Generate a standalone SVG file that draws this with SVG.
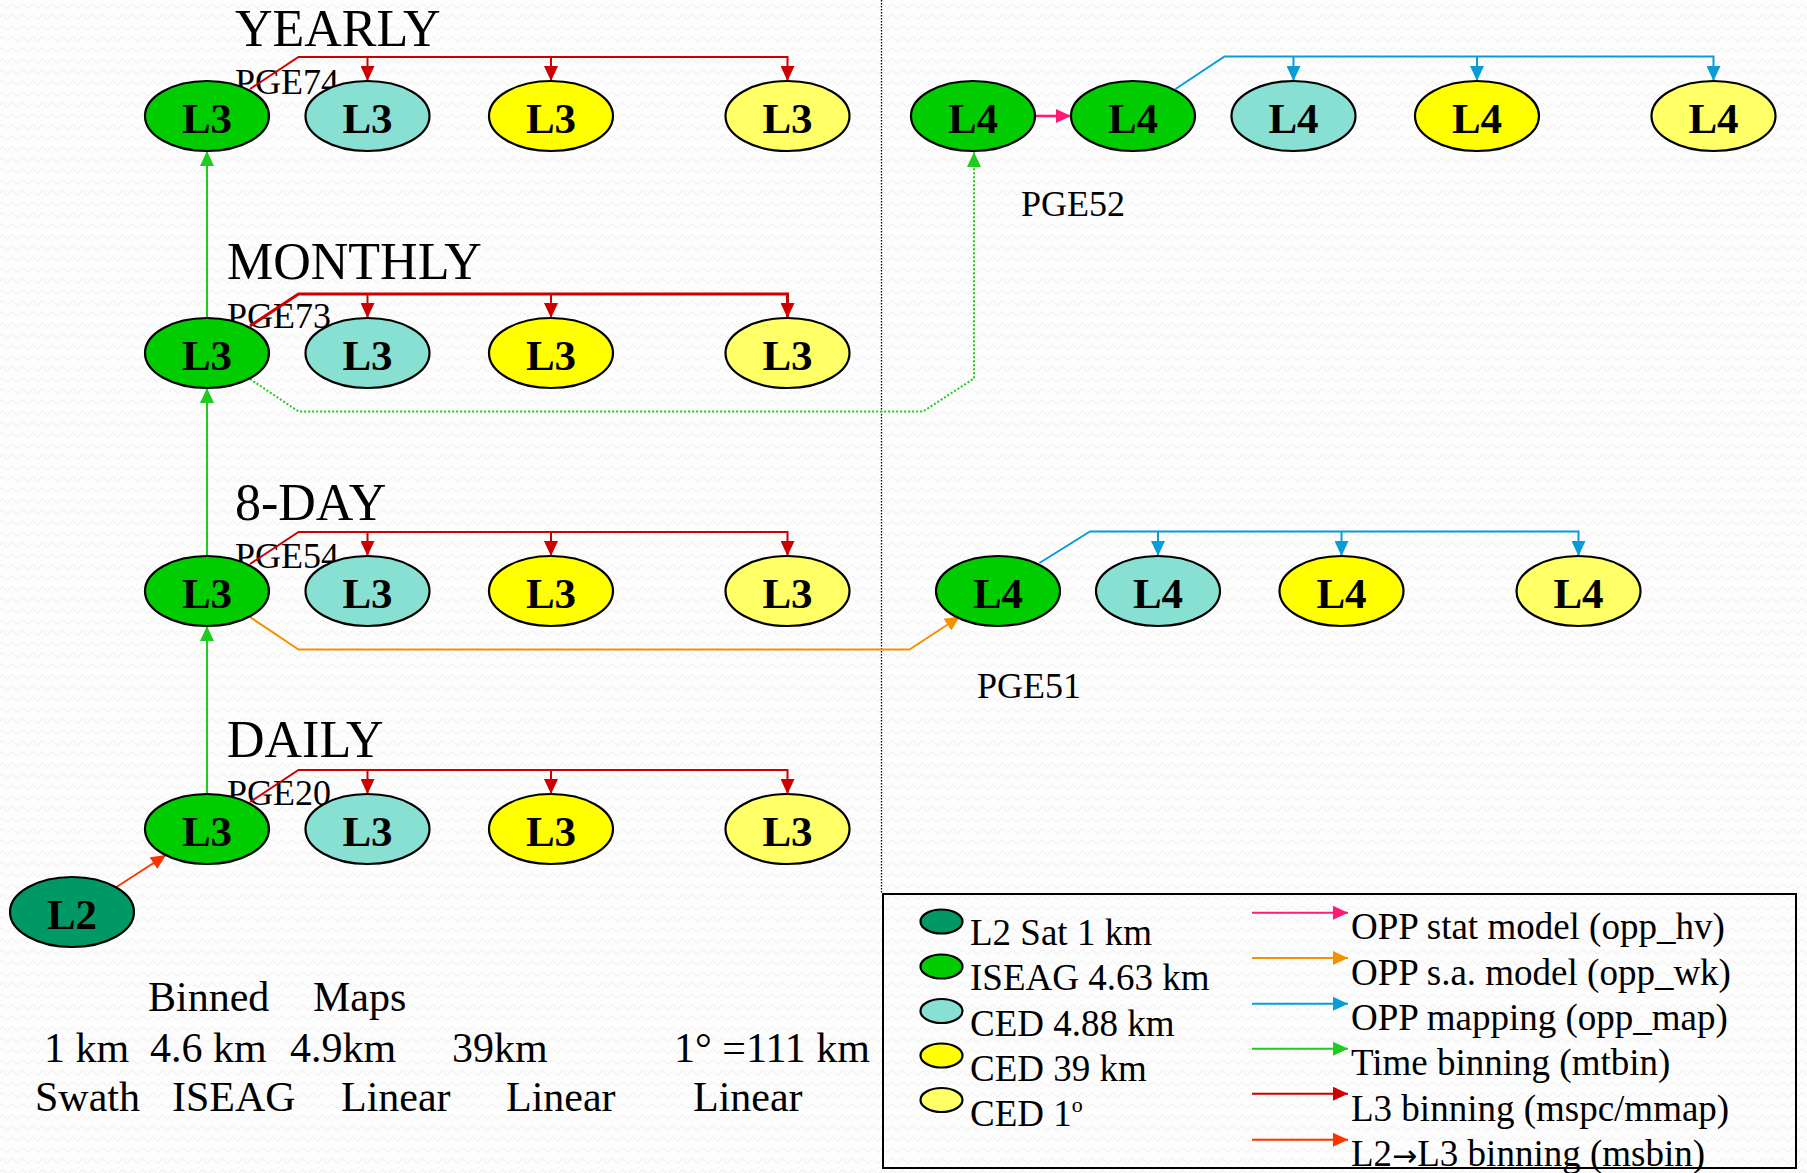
<svg xmlns="http://www.w3.org/2000/svg" width="1807" height="1173" viewBox="0 0 1807 1173">
  <defs>
    <style>
      text { font-family: "Liberation Serif", "Times New Roman", serif; fill: #000; }
      .title { font-size: 52px; }
      .pge { font-size: 36px; }
      .lab { font-size: 43px; font-weight: bold; text-anchor: middle; }
      .foot { font-size: 42px; }
      .leg { font-size: 37px; }
      .node { stroke: #000; stroke-width: 2.2; }
      .iseag { fill: #00CC00; }
      .ced488 { fill: #88E0D2; }
      .ced39 { fill: #FFFF00; }
      .ced1 { fill: #FFFF66; }
      .l2 { fill: #009966; }
      .c { fill: none; stroke-width: 2; }
      .red { stroke: #CC0000; }
      .grn { stroke: #1ECC1E; }
      .blu { stroke: #0A9CD6; }
      .org { stroke: #F39200; }
      .pnk { stroke: #FF1A75; }
      .rorg { stroke: #FF3300; }
    </style>
    <pattern id="zig" width="10" height="11" patternUnits="userSpaceOnUse">
      <path d="M0,6 Q2.5,2 5,6 T10,6" fill="none" stroke="#ececec" stroke-width="1"/>
    </pattern>
    <marker id="aRed" viewBox="0 0 15 14" refX="15" refY="7" markerWidth="15" markerHeight="14" markerUnits="userSpaceOnUse" orient="auto"><path d="M0,0 L15,7 L0,14 z" fill="#CC0000"/></marker>
    <marker id="aGrn" viewBox="0 0 15 14" refX="15" refY="7" markerWidth="15" markerHeight="14" markerUnits="userSpaceOnUse" orient="auto"><path d="M0,0 L15,7 L0,14 z" fill="#1ECC1E"/></marker>
    <marker id="aBlu" viewBox="0 0 15 14" refX="15" refY="7" markerWidth="15" markerHeight="14" markerUnits="userSpaceOnUse" orient="auto"><path d="M0,0 L15,7 L0,14 z" fill="#0A9CD6"/></marker>
    <marker id="aOrg" viewBox="0 0 15 14" refX="15" refY="7" markerWidth="15" markerHeight="14" markerUnits="userSpaceOnUse" orient="auto"><path d="M0,0 L15,7 L0,14 z" fill="#F39200"/></marker>
    <marker id="aPnk" viewBox="0 0 15 14" refX="15" refY="7" markerWidth="15" markerHeight="14" markerUnits="userSpaceOnUse" orient="auto"><path d="M0,0 L15,7 L0,14 z" fill="#FF1A75"/></marker>
    <marker id="aRorg" viewBox="0 0 15 14" refX="15" refY="7" markerWidth="15" markerHeight="14" markerUnits="userSpaceOnUse" orient="auto"><path d="M0,0 L15,7 L0,14 z" fill="#FF3300"/></marker>
  </defs>

  <!-- textured paper background -->
  <rect width="1807" height="1173" fill="#fdfdfd"/>
  <rect width="1807" height="1173" fill="url(#zig)"/>

  <!-- divider between L3 and L4 halves -->
  <path d="M881.5,0 V894" fill="none" stroke="#000" stroke-width="1.3" stroke-dasharray="1.5 1.5"/>

  <!-- time-step titles and PGE labels -->
  <g id="titles">
    <text class="title" x="235" y="46">YEARLY</text>
    <text class="title" x="227" y="279">MONTHLY</text>
    <text class="title" x="235" y="520">8-DAY</text>
    <text class="title" x="227" y="757">DAILY</text>
    <text class="pge" x="235" y="94">PGE74</text>
    <text class="pge" x="227" y="328">PGE73</text>
    <text class="pge" x="235" y="568">PGE54</text>
    <text class="pge" x="227" y="805">PGE20</text>
    <text class="pge" x="1021" y="216">PGE52</text>
    <text class="pge" x="977" y="698">PGE51</text>
  </g>

  <g id="connectors">
    <!-- L3 binning, per time step -->
    <path class="c red" d="M250,89 L298.5,57 H787.5 V81" marker-end="url(#aRed)"/>
    <path class="c red" d="M367.5,57 V81" marker-end="url(#aRed)"/>
    <path class="c red" d="M551,57 V81" marker-end="url(#aRed)"/>
    <path class="c red" style="stroke-width:3" d="M250,326 L298.5,294 H787.5 V318" marker-end="url(#aRed)"/>
    <path class="c red" d="M367.5,294 V318" marker-end="url(#aRed)"/>
    <path class="c red" d="M551,294 V318" marker-end="url(#aRed)"/>
    <path class="c red" d="M250,564 L298.5,532 H787.5 V556" marker-end="url(#aRed)"/>
    <path class="c red" d="M367.5,532 V556" marker-end="url(#aRed)"/>
    <path class="c red" d="M551,532 V556" marker-end="url(#aRed)"/>
    <path class="c red" d="M250,802 L298.5,770 H787.5 V794" marker-end="url(#aRed)"/>
    <path class="c red" d="M367.5,770 V794" marker-end="url(#aRed)"/>
    <path class="c red" d="M551,770 V794" marker-end="url(#aRed)"/>
    <!-- time binning -->
    <path class="c grn" d="M207,318 V151" marker-end="url(#aGrn)"/>
    <path class="c grn" d="M207,556 V388" marker-end="url(#aGrn)"/>
    <path class="c grn" d="M207,794 V626" marker-end="url(#aGrn)"/>
    <path class="c grn" d="M250,379 L298.5,411.5 H923 L974,378.5 V152" stroke-dasharray="2 2" marker-end="url(#aGrn)"/>
    <!-- L2 to L3 binning -->
    <path class="c rorg" d="M116.5,887 L166,855" marker-end="url(#aRorg)"/>
    <!-- OPP s.a. model -->
    <path class="c org" d="M250,617 L298.5,649.5 H909.5 L960,616.5" marker-end="url(#aOrg)"/>
    <!-- OPP stat model -->
    <path class="c pnk" style="stroke-width:2.5" d="M1035,116 H1071" marker-end="url(#aPnk)"/>
    <!-- OPP mapping -->
    <path class="c blu" d="M1175.5,89 L1224.5,56.5 H1713.5 V81" marker-end="url(#aBlu)"/>
    <path class="c blu" d="M1293.5,56.5 V81" marker-end="url(#aBlu)"/>
    <path class="c blu" d="M1477,56.5 V81" marker-end="url(#aBlu)"/>
    <path class="c blu" d="M1039.5,563 L1090,531.5 H1578.5 V556" marker-end="url(#aBlu)"/>
    <path class="c blu" d="M1158,531.5 V556" marker-end="url(#aBlu)"/>
    <path class="c blu" d="M1341.5,531.5 V556" marker-end="url(#aBlu)"/>
  </g>

  <!-- yearly L3 -->
  <g id="y-l3-iseag"><ellipse class="node iseag" cx="207" cy="116" rx="62" ry="35"/><text class="lab" x="207" y="132.5">L3</text></g>
  <g id="y-l3-ced488"><ellipse class="node ced488" cx="367.5" cy="116" rx="62" ry="35"/><text class="lab" x="367.5" y="132.5">L3</text></g>
  <g id="y-l3-ced39"><ellipse class="node ced39" cx="551" cy="116" rx="62" ry="35"/><text class="lab" x="551" y="132.5">L3</text></g>
  <g id="y-l3-ced1"><ellipse class="node ced1" cx="787.5" cy="116" rx="62" ry="35"/><text class="lab" x="787.5" y="132.5">L3</text></g>
  <!-- monthly L3 -->
  <g id="m-l3-iseag"><ellipse class="node iseag" cx="207" cy="353" rx="62" ry="35"/><text class="lab" x="207" y="369.5">L3</text></g>
  <g id="m-l3-ced488"><ellipse class="node ced488" cx="367.5" cy="353" rx="62" ry="35"/><text class="lab" x="367.5" y="369.5">L3</text></g>
  <g id="m-l3-ced39"><ellipse class="node ced39" cx="551" cy="353" rx="62" ry="35"/><text class="lab" x="551" y="369.5">L3</text></g>
  <g id="m-l3-ced1"><ellipse class="node ced1" cx="787.5" cy="353" rx="62" ry="35"/><text class="lab" x="787.5" y="369.5">L3</text></g>
  <!-- 8-day L3 -->
  <g id="d8-l3-iseag"><ellipse class="node iseag" cx="207" cy="591" rx="62" ry="35"/><text class="lab" x="207" y="607.5">L3</text></g>
  <g id="d8-l3-ced488"><ellipse class="node ced488" cx="367.5" cy="591" rx="62" ry="35"/><text class="lab" x="367.5" y="607.5">L3</text></g>
  <g id="d8-l3-ced39"><ellipse class="node ced39" cx="551" cy="591" rx="62" ry="35"/><text class="lab" x="551" y="607.5">L3</text></g>
  <g id="d8-l3-ced1"><ellipse class="node ced1" cx="787.5" cy="591" rx="62" ry="35"/><text class="lab" x="787.5" y="607.5">L3</text></g>
  <!-- daily L3 -->
  <g id="d1-l3-iseag"><ellipse class="node iseag" cx="207" cy="829" rx="62" ry="35"/><text class="lab" x="207" y="845.5">L3</text></g>
  <g id="d1-l3-ced488"><ellipse class="node ced488" cx="367.5" cy="829" rx="62" ry="35"/><text class="lab" x="367.5" y="845.5">L3</text></g>
  <g id="d1-l3-ced39"><ellipse class="node ced39" cx="551" cy="829" rx="62" ry="35"/><text class="lab" x="551" y="845.5">L3</text></g>
  <g id="d1-l3-ced1"><ellipse class="node ced1" cx="787.5" cy="829" rx="62" ry="35"/><text class="lab" x="787.5" y="845.5">L3</text></g>
  <!-- L2 swath -->
  <g id="l2-swath"><ellipse class="node l2" cx="72" cy="912" rx="62" ry="35"/><text class="lab" x="72" y="928.5">L2</text></g>
  <!-- L4 (PGE52) -->
  <g id="pge52-l4-in"><ellipse class="node iseag" cx="973" cy="116" rx="62" ry="35"/><text class="lab" x="973" y="132.5">L4</text></g>
  <g id="pge52-l4-iseag"><ellipse class="node iseag" cx="1133" cy="116" rx="62" ry="35"/><text class="lab" x="1133" y="132.5">L4</text></g>
  <g id="pge52-l4-ced488"><ellipse class="node ced488" cx="1293.5" cy="116" rx="62" ry="35"/><text class="lab" x="1293.5" y="132.5">L4</text></g>
  <g id="pge52-l4-ced39"><ellipse class="node ced39" cx="1477" cy="116" rx="62" ry="35"/><text class="lab" x="1477" y="132.5">L4</text></g>
  <g id="pge52-l4-ced1"><ellipse class="node ced1" cx="1713.5" cy="116" rx="62" ry="35"/><text class="lab" x="1713.5" y="132.5">L4</text></g>
  <!-- L4 (PGE51) -->
  <g id="pge51-l4-iseag"><ellipse class="node iseag" cx="998" cy="591" rx="62" ry="35"/><text class="lab" x="998" y="607.5">L4</text></g>
  <g id="pge51-l4-ced488"><ellipse class="node ced488" cx="1158" cy="591" rx="62" ry="35"/><text class="lab" x="1158" y="607.5">L4</text></g>
  <g id="pge51-l4-ced39"><ellipse class="node ced39" cx="1341.5" cy="591" rx="62" ry="35"/><text class="lab" x="1341.5" y="607.5">L4</text></g>
  <g id="pge51-l4-ced1"><ellipse class="node ced1" cx="1578.5" cy="591" rx="62" ry="35"/><text class="lab" x="1578.5" y="607.5">L4</text></g>

  <!-- resolution / projection footer -->
  <g id="footer">
    <text class="foot" x="148" y="1011">Binned</text>
    <text class="foot" x="313" y="1011">Maps</text>
    <text class="foot" x="44" y="1062">1 km</text>
    <text class="foot" x="150" y="1062">4.6 km</text>
    <text class="foot" x="290" y="1062">4.9km</text>
    <text class="foot" x="452" y="1062">39km</text>
    <text class="foot" x="674" y="1062">1° =111 km</text>
    <text class="foot" x="35" y="1111">Swath</text>
    <text class="foot" x="172" y="1111">ISEAG</text>
    <text class="foot" x="341" y="1111">Linear</text>
    <text class="foot" x="506" y="1111">Linear</text>
    <text class="foot" x="693" y="1111">Linear</text>
  </g>

  <!-- legend -->
  <g id="legend">
    <rect x="883" y="894" width="913" height="274" fill="none" stroke="#000" stroke-width="2"/>
    <ellipse class="node l2" cx="941.5" cy="921.5" rx="21" ry="12"/>
    <ellipse class="node iseag" cx="941.5" cy="966.5" rx="21" ry="12"/>
    <ellipse class="node ced488" cx="941.5" cy="1011" rx="21" ry="12"/>
    <ellipse class="node ced39" cx="941.5" cy="1055.5" rx="21" ry="12"/>
    <ellipse class="node ced1" cx="941.5" cy="1100" rx="21" ry="12"/>
    <text class="leg" x="970" y="945">L2 Sat 1 km</text>
    <text class="leg" x="970" y="990">ISEAG 4.63 km</text>
    <text class="leg" x="970" y="1035.5">CED 4.88 km</text>
    <text class="leg" x="970" y="1080.5">CED 39 km</text>
    <text class="leg" x="970" y="1126">CED 1<tspan font-size="22" dy="-14">o</tspan></text>
    <path class="c pnk" d="M1252,912.7 H1348" marker-end="url(#aPnk)"/>
    <path class="c org" d="M1252,958 H1348" marker-end="url(#aOrg)"/>
    <path class="c blu" d="M1252,1003.8 H1348" marker-end="url(#aBlu)"/>
    <path class="c grn" d="M1252,1048.7 H1348" marker-end="url(#aGrn)"/>
    <path class="c red" d="M1252,1093.7 H1348" marker-end="url(#aRed)"/>
    <path class="c rorg" d="M1252,1139.7 H1348" marker-end="url(#aRorg)"/>
    <text class="leg" x="1351" y="939">OPP stat model (opp_hv)</text>
    <text class="leg" x="1351" y="985">OPP s.a. model (opp_wk)</text>
    <text class="leg" x="1351" y="1030">OPP mapping (opp_map)</text>
    <text class="leg" x="1351" y="1075">Time binning (mtbin)</text>
    <text class="leg" x="1351" y="1121">L3 binning (mspc/mmap)</text>
    <text class="leg" x="1351" y="1166">L2<tspan font-family="DejaVu Sans, sans-serif" font-size="30">→</tspan>L3 binning (msbin)</text>
  </g>
</svg>
